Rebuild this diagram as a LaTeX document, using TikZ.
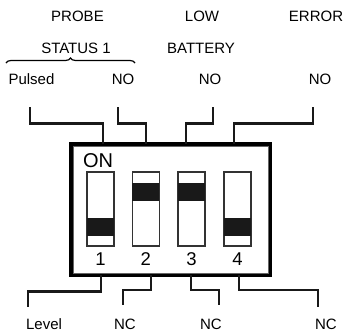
\documentclass[tikz,border=0pt]{standalone}
\usepackage{fontspec}
\setmainfont{Liberation Sans}
\usetikzlibrary{decorations.pathreplacing}

\begin{document}
\begin{tikzpicture}[x=1pt,y=-1pt]
\tikzstyle{every node}+=[inner sep=0pt]
\tikzstyle{lbl}=[font=\fontsize{15}{18}\selectfont, anchor=base]
\tikzstyle{num}=[font=\fontsize{18.5}{20}\selectfont, anchor=base]
\tikzstyle{lead}=[line width=2.4pt, black!90]
\tikzstyle{sw}=[draw=black!80, line width=1.6pt, minimum width=27pt, minimum height=74pt]
\tikzstyle{slider}=[fill=black!90, minimum width=27pt, minimum height=18pt]
\useasboundingbox (0,0) rectangle (346,333);
%top labels
\node [lbl] (probe) at (77.5,21.7) {PROBE};
\node [lbl] (low) at (202,21.7) {LOW};
\node [lbl] (error) at (316,21.7) {ERROR};
\node [lbl] (status) at (76,53) {STATUS 1};
\node [lbl] (battery) at (201,53) {BATTERY};
\node [lbl] (pulsed) at (31.5,84) {Pulsed};
\node [lbl] (no1) at (123,84) {NO};
\node [lbl] (no2) at (210,84) {NO};
\node [lbl] (no3) at (320,84) {NO};
\coordinate (brl) at (6,63);
\coordinate (brr) at (135,63);
\draw [decorate, decoration={brace, amplitude=5pt}, line width=1.2pt] (brl) -- (brr);
%bottom labels
\node [lbl] (level) at (44,329.5) {Level};
\node [lbl] (nc1) at (125,329.5) {NC};
\node [lbl] (nc2) at (211,329.5) {NC};
\node [lbl] (nc3) at (326,329.5) {NC};
%housing
\node [draw, line width=4.5pt, minimum width=198.5pt, minimum height=130.5pt] (box) at (170.5,209.5) {};
\draw [black!60, line width=1pt] ([shift={(4,4)}]box.north west) rectangle ([shift={(-4,-4)}]box.south east);
\node [font=\fontsize{20}{22}\selectfont] (on) at (98,161) {ON};
%switches
\node [sw] (sw1) at (100.5,209) {};
\node [sw] (sw2) at (145.8,209) {};
\node [sw] (sw3) at (191.5,209) {};
\node [sw] (sw4) at (237.5,209) {};
\node [slider] (k1) at (100.5,226.5) {};
\node [slider] (k2) at (145.8,191.5) {};
\node [slider] (k3) at (191.5,191.5) {};
\node [slider] (k4) at (237.5,226.5) {};
\node [num] (n1) at (100.5,265) {1};
\node [num] (n2) at (145.8,265) {2};
\node [num] (n3) at (191.5,265) {3};
\node [num] (n4) at (237.5,265) {4};
%top leads
\coordinate (t1) at (30,107);
\coordinate (t2) at (118,107);
\coordinate (t3) at (213,107);
\coordinate (t4) at (313,107);
\coordinate (u1) at (103,144);
\coordinate (u2) at (146,144);
\coordinate (u3) at (186,144);
\coordinate (u4) at (234,144);
\draw [lead] (t1) -- ++(0,16.5) -| (u1);
\draw [lead] (t2) -- ++(0,16.5) -| (u2);
\draw [lead] (t3) -- ++(0,16.5) -| (u3);
\draw [lead] (t4) -- ++(0,16.5) -| (u4);
%bottom leads
\coordinate (d1) at (101,275);
\coordinate (d2) at (151,275);
\coordinate (d3) at (191,275);
\coordinate (d4) at (239,275);
\coordinate (e1) at (28,307);
\coordinate (e2) at (123,305);
\coordinate (e3) at (219,305);
\coordinate (e4) at (318,307);
\draw [lead] (d1) -- ++(0,16.5) -| (e1);
\draw [lead] (d2) -- ++(0,15) -| (e2);
\draw [lead] (d3) -- ++(0,15) -| (e3);
\draw [lead] (d4) -- ++(0,15) -| (e4);
\end{tikzpicture}
\end{document}
